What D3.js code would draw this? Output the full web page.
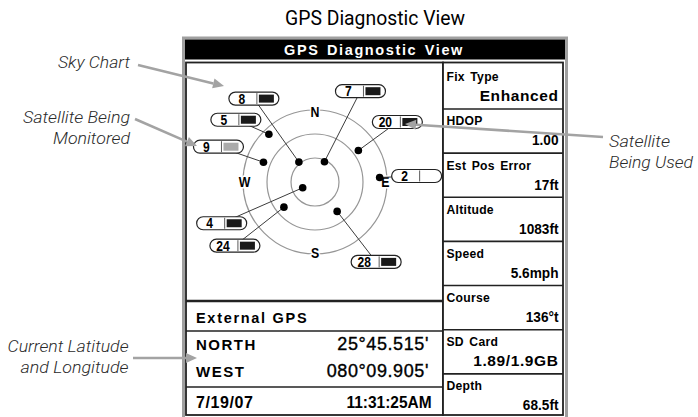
<!DOCTYPE html>
<html>
<head>
<meta charset="utf-8">
<script src="https://cdn.jsdelivr.net/npm/d3@7"></script>
<style>
	body { margin: 0; background: #fff; }
	svg { display: block; }
	text { font-family: "Liberation Sans", Arial, sans-serif; }
	.note { font-family: Roboto, "Liberation Sans", sans-serif; font-style: italic; font-weight: 300; font-size: 17px; fill: #2a2a2a; }
</style>
</head>
<body>
<div id="js_chart"></div>
<script>
/*globals d3*/
// satellites on the sky chart
var satIds = ['8', '7', '5', '20', '9', '2', '4', '24', '28'];
var satAzimuth = [321, 25, 316, 54, 291, 86, 245, 231, 143];
var satElevation = [58, 62, 7, 23, 21, 9, 73, 40, 44];
var satStatus = ['used', 'used', 'used', 'used', 'monitored', 'none', 'used', 'used', 'used'];
var ringElevations = [60, 30, 0];
var compassLabels = ['N', 'E', 'S', 'W'];
var compassAzimuth = [0, 90, 180, 270];
// right column readouts
var infoLabels = ['Fix Type', 'HDOP', 'Est Pos Error', 'Altitude', 'Speed', 'Course', 'SD Card', 'Depth'];
var infoValues = ['Enhanced', '1.00', '17ft', '1083ft', '5.6mph', '136°t', '1.89/1.9GB', '68.5ft'];
// bottom left readouts
var sourceLabel = 'External GPS';
var posLabels = ['NORTH', 'WEST'];
var posValues = ['25°45.515\'', '080°09.905\''];
var dateText = '7/19/07';
var timeText = '11:31:25AM';

(function () {
	'use strict';
	const W = 698, H = 417;
	const frameColor = 'rgb(160,160,160)';
	const lineColor = 'rgb(34,34,34)';
	const arrowColor = 'rgb(163,163,163)';
	// label box offsets from each satellite dot (layout only)
	const labelOffset = [[-70, -70], [11, -77], [-58, -21], [14, -35], [-70, -22], [12, -8], [-106, 29], [-74, 32], [14, 44]];
	const barFill = { used: 'rgb(26,26,26)', monitored: 'rgb(170,170,170)', none: 'none' };

	let svg = d3.select('#js_chart').append('svg')
		.attr('width', W).attr('height', H);

	// squeeze a text horizontally to mimic the narrow screen font
	function condense(sel, k) {
		sel.each(function () {
			let w = this.getComputedTextLength();
			d3.select(this).attr('textLength', w * k).attr('lengthAdjust', 'spacingAndGlyphs');
		});
	}

	// page title
	svg.append('text')
		.attr('x', 375).attr('y', 25)
		.style('text-anchor', 'middle')
		.style('font-family', '"Liberation Sans Narrow", Roboto, sans-serif')
		.style('font-size', '20px')
		.attr('textLength', 180).attr('lengthAdjust', 'spacingAndGlyphs')
		.text('GPS Diagnostic View');

	// device screen frame
	svg.append('rect')
		.attr('x', 183.5).attr('y', 38).attr('width', 383).attr('height', 390)
		.style('fill', '#fff').style('stroke', frameColor).style('stroke-width', 3);
	svg.append('rect')
		.attr('x', 185).attr('y', 39.5).attr('width', 380).attr('height', 20)
		.style('fill', '#000');
	svg.append('text')
		.attr('x', 374).attr('y', 55)
		.style('text-anchor', 'middle').style('fill', '#fff')
		.style('font-weight', 'bold').style('font-size', '14.5px')
		.style('letter-spacing', '1.6px').style('word-spacing', '2px')
		.text('GPS Diagnostic View');

	// left panel
	const left = { x0: 186, x1: 443, y0: 62.5, y1: 415 };
	svg.append('rect')
		.attr('x', left.x0).attr('y', left.y0)
		.attr('width', left.x1 - left.x0).attr('height', left.y1 - left.y0)
		.style('fill', 'none').style('stroke', lineColor).style('stroke-width', 1.8);

	function hLine(y, w) {
		svg.append('line')
			.attr('x1', left.x0).attr('x2', left.x1).attr('y1', y).attr('y2', y)
			.style('stroke', lineColor).style('stroke-width', w);
	}
	hLine(301, 2.6);
	hLine(331, 1.6);
	hLine(387, 1.6);

	// right panel with readout cells
	const right = { x0: 443, x1: 563, y0: 62.5, y1: 415 };
	let cellY = d3.scaleBand().domain(d3.range(infoLabels.length)).range([64.8, 418]);
	svg.append('rect')
		.attr('x', right.x0).attr('y', right.y0)
		.attr('width', right.x1 - right.x0).attr('height', right.y1 - right.y0)
		.style('fill', '#fff').style('stroke', lineColor).style('stroke-width', 1.8);
	let cells = svg.selectAll('.cell').data(infoLabels).enter().append('g').classed('cell', true);
	cells.filter(function (d, i) { return i > 0; }).append('line')
		.attr('x1', right.x0).attr('x2', right.x1)
		.attr('y1', function (d, i) { return cellY(i + 1); })
		.attr('y2', function (d, i) { return cellY(i + 1); })
		.style('stroke', lineColor).style('stroke-width', 1.6);
	let labels = cells.append('text')
		.attr('x', right.x0 + 3.5)
		.attr('y', function (d, i) { return cellY(i) + 16.5; })
		.style('font-weight', 'bold').style('font-size', '13.5px')
		.style('letter-spacing', '0.3px').style('word-spacing', '2px')
		.text(function (d) { return d; });
	condense(labels, 0.9);
	let vals = cells.append('text')
		.attr('x', right.x1 - 4.5)
		.attr('y', function (d, i) { return cellY(i) + 36.5; })
		.style('text-anchor', 'end').style('font-weight', 'bold')
		.style('font-size', '15.5px')
		.style('letter-spacing', function (d, i) { return (i === 0 || i === 6) ? '0.6px' : '0px'; })
		.text(function (d, i) { return infoValues[i]; });
	condense(vals.filter(function (d, i) { return i !== 0 && i !== 6; }), 0.88);

	// sky chart
	const cx = 315, cy = 182, R = 72;
	let rScale = d3.scaleLinear().domain([90, 0]).range([0, R]);
	function polar(az, el) {
		let a = az * Math.PI / 180, r = rScale(el);
		return [cx + r * Math.sin(a), cy - r * Math.cos(a)];
	}
	svg.append('g').selectAll('circle').data(ringElevations).enter().append('circle')
		.attr('cx', cx).attr('cy', cy)
		.attr('r', function (d) { return rScale(d); })
		.style('fill', 'none').style('stroke', 'rgb(150,150,150)').style('stroke-width', 1.2);
	let compass = svg.append('g').selectAll('text').data(compassLabels).enter().append('text')
		.attr('x', function (d, i) { return polar(compassAzimuth[i], 2)[0]; })
		.attr('y', function (d, i) { return polar(compassAzimuth[i], 2)[1]; })
		.attr('dy', '0.36em')
		.style('text-anchor', 'middle').style('font-weight', 'bold').style('font-size', '14.5px')
		.style('stroke', '#fff').style('stroke-width', 3).style('paint-order', 'stroke')
		.text(function (d) { return d; });
	condense(compass, 0.85);

	let sats = satIds.map(function (id, i) {
		let p = polar(satAzimuth[i], satElevation[i]);
		return { id: id, x: p[0], y: p[1], bx: p[0] + labelOffset[i][0], by: p[1] + labelOffset[i][1], status: satStatus[i] };
	});
	const pillW = 50, pillH = 13;
	let satG = svg.append('g').selectAll('g').data(sats).enter().append('g');
	satG.append('line')
		.attr('x1', function (d) { return d.x; }).attr('y1', function (d) { return d.y; })
		.attr('x2', function (d) { return d.bx + pillW / 2; }).attr('y2', function (d) { return d.by + pillH / 2; })
		.style('stroke', 'rgb(60,60,60)').style('stroke-width', 1);
	satG.append('rect')
		.attr('x', function (d) { return d.bx; }).attr('y', function (d) { return d.by; })
		.attr('width', pillW).attr('height', pillH).attr('rx', pillH / 2)
		.style('fill', '#fff').style('stroke', lineColor).style('stroke-width', 1.2);
	satG.append('line')
		.attr('x1', function (d) { return d.bx + 28; }).attr('x2', function (d) { return d.bx + 28; })
		.attr('y1', function (d) { return d.by + 1; }).attr('y2', function (d) { return d.by + pillH - 1; })
		.style('stroke', 'rgb(90,90,90)').style('stroke-width', 1);
	satG.append('rect')
		.attr('x', function (d) { return d.bx + 30; }).attr('y', function (d) { return d.by + 2.5; })
		.attr('width', 15).attr('height', 8)
		.style('fill', function (d) { return barFill[d.status]; });
	let satNum = satG.append('text')
		.attr('x', function (d) { return d.bx + 13; }).attr('y', function (d) { return d.by + 11.5; })
		.style('text-anchor', 'middle').style('font-weight', 'bold').style('font-size', '14px')
		.text(function (d) { return d.id; });
	condense(satNum, 0.86);
	svg.append('g').selectAll('circle').data(sats).enter().append('circle')
		.attr('cx', function (d) { return d.x; }).attr('cy', function (d) { return d.y; })
		.attr('r', 3.8).style('fill', '#000');

	// bottom left readouts
	const textX = left.x0 + 10;
	svg.append('text')
		.attr('x', textX).attr('y', 323)
		.style('font-weight', 'bold').style('font-size', '14.5px').style('letter-spacing', '1.7px')
		.text(sourceLabel);
	svg.selectAll('.posLabel').data(posLabels).enter().append('text').classed('posLabel', true)
		.attr('x', textX).attr('y', function (d, i) { return 350 + i * 27; })
		.style('font-weight', 'bold').style('font-size', '15px').style('letter-spacing', '1.5px')
		.text(function (d) { return d; });
	svg.selectAll('.posValue').data(posValues).enter().append('text').classed('posValue', true)
		.attr('x', 429).attr('y', function (d, i) { return 350 + i * 27; })
		.style('text-anchor', 'end').style('font-size', '18px').style('letter-spacing', '0.6px')
		.style('stroke', '#000').style('stroke-width', 0.35)
		.text(function (d) { return d; });
	svg.append('text')
		.attr('x', textX).attr('y', 408)
		.style('font-weight', 'bold').style('font-size', '16px').style('letter-spacing', '0.6px')
		.text(dateText);
	svg.append('text')
		.attr('x', 431.5).attr('y', 408)
		.style('text-anchor', 'end').style('font-weight', 'bold').style('font-size', '16px')
		.attr('textLength', 85).attr('lengthAdjust', 'spacingAndGlyphs')
		.text(timeText);

	// callout notes
	function note(lines, x, y0, anchor, widths) {
		lines.forEach(function (t, i) {
			svg.append('text').classed('note', true)
				.attr('x', x).attr('y', y0 + i * 21)
				.style('text-anchor', anchor)
				.attr('textLength', widths[i]).attr('lengthAdjust', 'spacingAndGlyphs')
				.text(t);
		});
	}
	function drawArrow(x1, y1, x2, y2) {
		const headLen = 11, headW = 5;
		let ang = Math.atan2(y2 - y1, x2 - x1);
		let bx = x2 - headLen * Math.cos(ang), by = y2 - headLen * Math.sin(ang);
		svg.append('line')
			.attr('x1', x1).attr('y1', y1).attr('x2', bx).attr('y2', by)
			.style('stroke', arrowColor).style('stroke-width', 2.6);
		let px = -Math.sin(ang) * headW, py = Math.cos(ang) * headW;
		svg.append('path')
			.attr('d', 'M' + x2 + ',' + y2 + 'L' + (bx + px) + ',' + (by + py) + 'L' + (bx - px) + ',' + (by - py) + 'Z')
			.style('fill', arrowColor);
	}
	note(['Sky Chart'], 130, 68, 'end', [72]);
	note(['Satellite Being', 'Monitored'], 130, 123, 'end', [107, 77]);
	note(['Current Latitude', 'and Longitude'], 128.5, 352, 'end', [121, 108]);
	note(['Satellite', 'Being Used'], 609, 147, 'start', [61, 84]);
	drawArrow(138, 65, 224, 86);
	drawArrow(135, 119, 197, 146);
	drawArrow(133, 358, 197, 358);
	drawArrow(603, 137, 405, 124);
})();
</script>
</body>
</html>
